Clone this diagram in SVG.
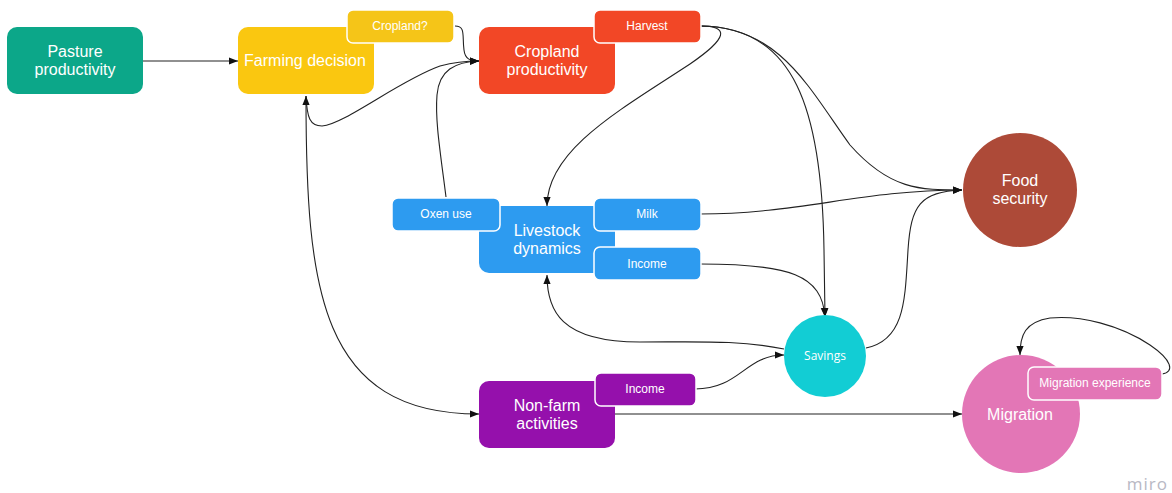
<svg xmlns="http://www.w3.org/2000/svg" width="1172" height="493" viewBox="0 0 1172 493">
<style>
.big{font-family:"Liberation Sans",Arial,sans-serif;font-size:16px;fill:#fff;text-anchor:middle}
.sm{font-family:"Liberation Sans",Arial,sans-serif;font-size:12px;fill:#fff;text-anchor:middle}
.sub{stroke:#fff;stroke-width:1.5}
.c{fill:none;stroke:#222;stroke-width:1.1}
</style>
<defs>
<marker id="a" viewBox="0 0 10 10" refX="10" refY="5" markerWidth="9" markerHeight="9" markerUnits="userSpaceOnUse" orient="auto">
<path d="M0,1 L10,5 L0,9 z" fill="#111"/>
</marker>
<marker id="s" viewBox="0 0 10 10" refX="0" refY="5" markerWidth="9" markerHeight="9" markerUnits="userSpaceOnUse" orient="auto">
<path d="M10,1 L0,5 L10,9 z" fill="#111"/>
</marker>
</defs>
<rect width="1172" height="493" fill="#fff"/>
<g id="connectors">
<path class="c" d="M143,61 L238,61" marker-end="url(#a)"/>
<path class="c" d="M455,26 C466,26 462,36 464,50 C465,59 470,61 479,61" marker-end="url(#a)"/>
<path class="c" d="M306,96 C307,118 310,126 322,126 C345,124 400,80 440,66 C455,62 465,61 479,61" marker-end="url(#a)"/>
<path class="c" d="M306,96 C306,290 320,414 479,414" marker-start="url(#s)" marker-end="url(#a)"/>
<path class="c" d="M446,197 C440,150 435,120 437,95 C439,70 455,62 479,61" marker-end="url(#a)"/>
<path class="c" d="M700,26 C730,26 728,38 690,64 C620,110 547,150 547,206" marker-end="url(#a)"/>
<path class="c" d="M700,26 C780,26 810,90 850,145 C890,190 920,190 962,190" marker-end="url(#a)"/>
<path class="c" d="M700,26 C795,26 822,110 824,250 L825,317" marker-end="url(#a)"/>
<path class="c" d="M700,264 C790,264 822,275 825,317" marker-end="url(#a)"/>
<path class="c" d="M700,214 C800,214 860,190 962,190" marker-end="url(#a)"/>
<path class="c" d="M866,348 C905,340 905,300 908,250 C911,205 920,192 962,190" marker-end="url(#a)"/>
<path class="c" d="M784,349 C740,340 700,342 640,342 C560,342 547,310 547,275" marker-end="url(#a)"/>
<path class="c" d="M695,389 C740,389 745,355 784,355" marker-end="url(#a)"/>
<path class="c" d="M614,414 L962,414" marker-end="url(#a)"/>
<path class="c" d="M1162,374 C1175,372 1172,360 1150,345 C1120,325 1080,315 1050,318 C1025,322 1020,335 1020,355" marker-end="url(#a)"/>
</g>
<g id="pasture">
<rect x="7" y="27" width="136" height="67" rx="10" fill="#0ca789"/>
<text class="big" x="75" y="57">Pasture</text>
<text class="big" x="75" y="75">productivity</text>
</g>
<g id="farming">
<rect x="238" y="27" width="136" height="67" rx="10" fill="#fac710"/>
<text class="big" x="305" y="66">Farming decision</text>
</g>
<g id="cropland-q">
<rect class="sub" x="347" y="10" width="107" height="33" rx="6" fill="#f5c518"/>
<text class="sm" x="400" y="30">Cropland?</text>
</g>
<g id="cropland">
<rect x="479" y="27" width="136" height="67" rx="10" fill="#f24726"/>
<text class="big" x="547" y="57">Cropland</text>
<text class="big" x="547" y="75">productivity</text>
</g>
<g id="harvest">
<rect class="sub" x="594" y="10" width="107" height="33" rx="6" fill="#f24726"/>
<text class="sm" x="647" y="30">Harvest</text>
</g>
<g id="livestock">
<rect x="479" y="206" width="136" height="67" rx="10" fill="#2d9bf0"/>
<text class="big" x="547" y="236">Livestock</text>
<text class="big" x="547" y="254">dynamics</text>
</g>
<g id="oxen">
<rect class="sub" x="392" y="198" width="108" height="33" rx="6" fill="#2d9bf0"/>
<text class="sm" x="446" y="218">Oxen use</text>
</g>
<g id="milk">
<rect class="sub" x="594" y="198" width="107" height="33" rx="6" fill="#2d9bf0"/>
<text class="sm" x="647" y="218">Milk</text>
</g>
<g id="income-ls">
<rect class="sub" x="594" y="247" width="107" height="33" rx="6" fill="#2d9bf0"/>
<text class="sm" x="647" y="268">Income</text>
</g>
<g id="nonfarm">
<rect x="479" y="381" width="136" height="67" rx="10" fill="#9510ac"/>
<text class="big" x="547" y="411">Non-farm</text>
<text class="big" x="547" y="429">activities</text>
</g>
<g id="income-nf">
<rect class="sub" x="595" y="373" width="101" height="33" rx="6" fill="#9510ac"/>
<text class="sm" x="645" y="393">Income</text>
</g>
<g id="food">
<circle cx="1020" cy="190" r="57" fill="#ad4a38"/>
<text class="big" x="1020" y="186">Food</text>
<text class="big" x="1020" y="204">security</text>
</g>
<g id="savings">
<circle cx="825" cy="356" r="41" fill="#12cdd4"/>
<text class="sm" x="825" y="360" style="font-family:'Open Sans',sans-serif">Savings</text>
</g>
<g id="migration">
<circle cx="1021" cy="414" r="59" fill="#e376b6"/>
<text class="big" x="1020" y="420">Migration</text>
</g>
<g id="migexp">
<rect class="sub" x="1028" y="367" width="134" height="33" rx="6" fill="#e376b6"/>
<text class="sm" x="1095" y="387">Migration experience</text>
</g>
<text x="1168" y="490" style="font-family:'Open Sans',sans-serif;font-size:17px;fill:#b8b8c4;text-anchor:end;letter-spacing:1px">miro</text>
</svg>
